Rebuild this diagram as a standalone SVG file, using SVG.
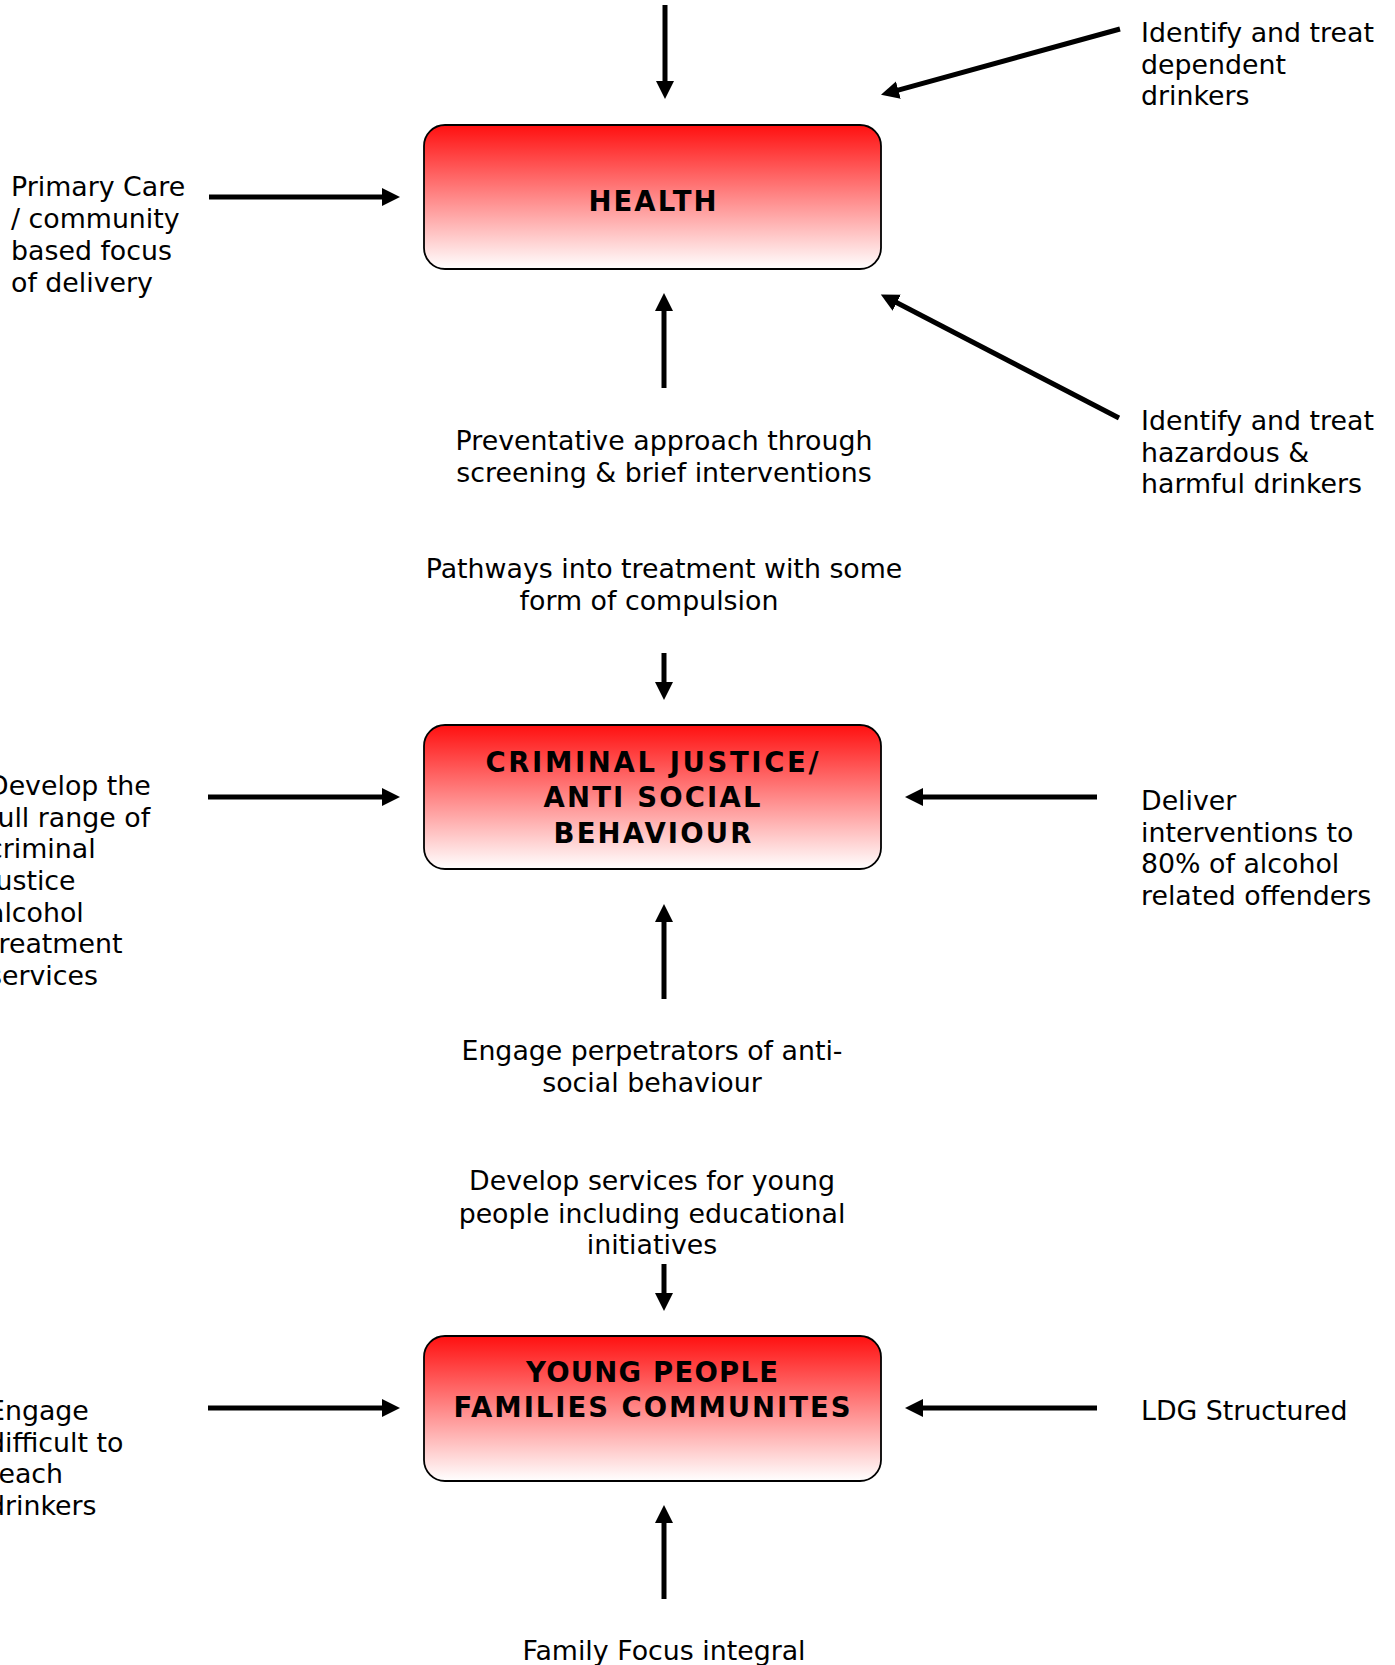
<svg xmlns="http://www.w3.org/2000/svg" width="1395" height="1665" viewBox="0 0 1395 1665">
<style>
  .box { stroke: #000; stroke-width: 1.8; fill: url(#redfade); }
  .head { font-family: "DejaVu Sans", Verdana, sans-serif; font-weight: bold; font-size: 27.5px; fill: #000; text-anchor: middle; }
  .lbl { font-family: "DejaVu Sans", Verdana, sans-serif; font-size: 26.8px; fill: #000; }
  .mid { text-anchor: middle; }
  .arrow { stroke: #000; stroke-width: 5; fill: none; marker-end: url(#ah); }
</style>
<defs>
  <linearGradient id="redfade" x1="0" y1="0" x2="0" y2="1">
    <stop offset="0" stop-color="#ff1010"/>
    <stop offset="1" stop-color="#ffffff"/>
  </linearGradient>
  <marker id="ah" markerUnits="userSpaceOnUse" markerWidth="20" markerHeight="20" refX="2" refY="9" orient="auto">
    <path d="M0,0 L18,9 L0,18 z" fill="#000"/>
  </marker>
</defs>
<rect width="1395" height="1665" fill="#fff"/>

<g id="connectors">
  <line class="arrow" x1="665" y1="5" x2="665" y2="83"/>
  <line class="arrow" x1="1120" y1="29" x2="896.4" y2="90.6"/>
  <line class="arrow" x1="209" y1="197" x2="384" y2="197"/>
  <line class="arrow" x1="664" y1="388" x2="664" y2="309"/>
  <line class="arrow" x1="1119" y1="418" x2="895" y2="301.8"/>
  <line class="arrow" x1="664" y1="653" x2="664" y2="684"/>
  <line class="arrow" x1="208" y1="797" x2="384" y2="797"/>
  <line class="arrow" x1="1097" y1="797" x2="921" y2="797"/>
  <line class="arrow" x1="664" y1="999" x2="664" y2="920"/>
  <line class="arrow" x1="664" y1="1264" x2="664" y2="1295"/>
  <line class="arrow" x1="208" y1="1408" x2="384" y2="1408"/>
  <line class="arrow" x1="1097" y1="1408" x2="921" y2="1408"/>
  <line class="arrow" x1="664" y1="1599" x2="664" y2="1521"/>
</g>

<g id="node-health">
  <rect class="box" x="424" y="125" width="457" height="144" rx="21" ry="21"/>
  <text class="head" x="652.5" y="211" textLength="128" lengthAdjust="spacing">HEALTH</text>
</g>

<g id="node-criminal-justice">
  <rect class="box" x="424" y="725" width="457" height="144" rx="21" ry="21"/>
  <text class="head" x="652" y="772" textLength="333" lengthAdjust="spacing">CRIMINAL JUSTICE/</text>
  <text class="head" x="652" y="807" textLength="217" lengthAdjust="spacing">ANTI SOCIAL</text>
  <text class="head" x="652.5" y="843" textLength="198" lengthAdjust="spacing">BEHAVIOUR</text>
</g>

<g id="node-young-people">
  <rect class="box" x="424" y="1336" width="457" height="145" rx="21" ry="21"/>
  <text class="head" x="652" y="1382" textLength="252" lengthAdjust="spacing">YOUNG PEOPLE</text>
  <text class="head" x="652" y="1417" textLength="397" lengthAdjust="spacing">FAMILIES COMMUNITES</text>
</g>

<g id="label-primary-care">
  <text class="lbl" x="11" y="196">Primary Care</text>
  <text class="lbl" x="11" y="228">/ community</text>
  <text class="lbl" x="11" y="260">based focus</text>
  <text class="lbl" x="11" y="292">of delivery</text>
</g>

<g id="label-dependent">
  <text class="lbl" x="1141" y="42">Identify and treat</text>
  <text class="lbl" x="1141" y="74">dependent</text>
  <text class="lbl" x="1141" y="105">drinkers</text>
</g>

<g id="label-hazardous">
  <text class="lbl" x="1141" y="430">Identify and treat</text>
  <text class="lbl" x="1141" y="462">hazardous &amp;</text>
  <text class="lbl" x="1141" y="493">harmful drinkers</text>
</g>

<g id="label-preventative">
  <text class="lbl mid" x="664" y="450">Preventative approach through</text>
  <text class="lbl mid" x="664" y="482">screening &amp; brief interventions</text>
</g>

<g id="label-pathways">
  <text class="lbl mid" x="664" y="578">Pathways into treatment with some</text>
  <text class="lbl mid" x="649" y="610">form of compulsion</text>
</g>

<g id="label-develop-cj">
  <text class="lbl" x="-12" y="795">Develop the</text>
  <text class="lbl" x="-12" y="827">full range of</text>
  <text class="lbl" x="-12" y="858">criminal</text>
  <text class="lbl" x="-12" y="890">justice</text>
  <text class="lbl" x="-12" y="922">alcohol</text>
  <text class="lbl" x="-12" y="953">treatment</text>
  <text class="lbl" x="-12" y="985">services</text>
</g>

<g id="label-deliver">
  <text class="lbl" x="1141" y="810">Deliver</text>
  <text class="lbl" x="1141" y="842">interventions to</text>
  <text class="lbl" x="1141" y="873">80% of alcohol</text>
  <text class="lbl" x="1141" y="905">related offenders</text>
</g>

<g id="label-engage-asb">
  <text class="lbl mid" x="652" y="1060">Engage perpetrators of anti-</text>
  <text class="lbl mid" x="652" y="1092">social behaviour</text>
</g>

<g id="label-develop-young">
  <text class="lbl mid" x="652" y="1190">Develop services for young</text>
  <text class="lbl mid" x="652" y="1223">people including educational</text>
  <text class="lbl mid" x="652" y="1254">initiatives</text>
</g>

<g id="label-engage-difficult">
  <text class="lbl" x="-12" y="1420">Engage</text>
  <text class="lbl" x="-12" y="1452">difficult to</text>
  <text class="lbl" x="-12" y="1483">reach</text>
  <text class="lbl" x="-12" y="1515">drinkers</text>
</g>

<g id="label-ldg">
  <text class="lbl" x="1141" y="1420">LDG Structured</text>
</g>

<g id="label-family">
  <text class="lbl mid" x="664" y="1660">Family Focus integral</text>
</g>
</svg>
